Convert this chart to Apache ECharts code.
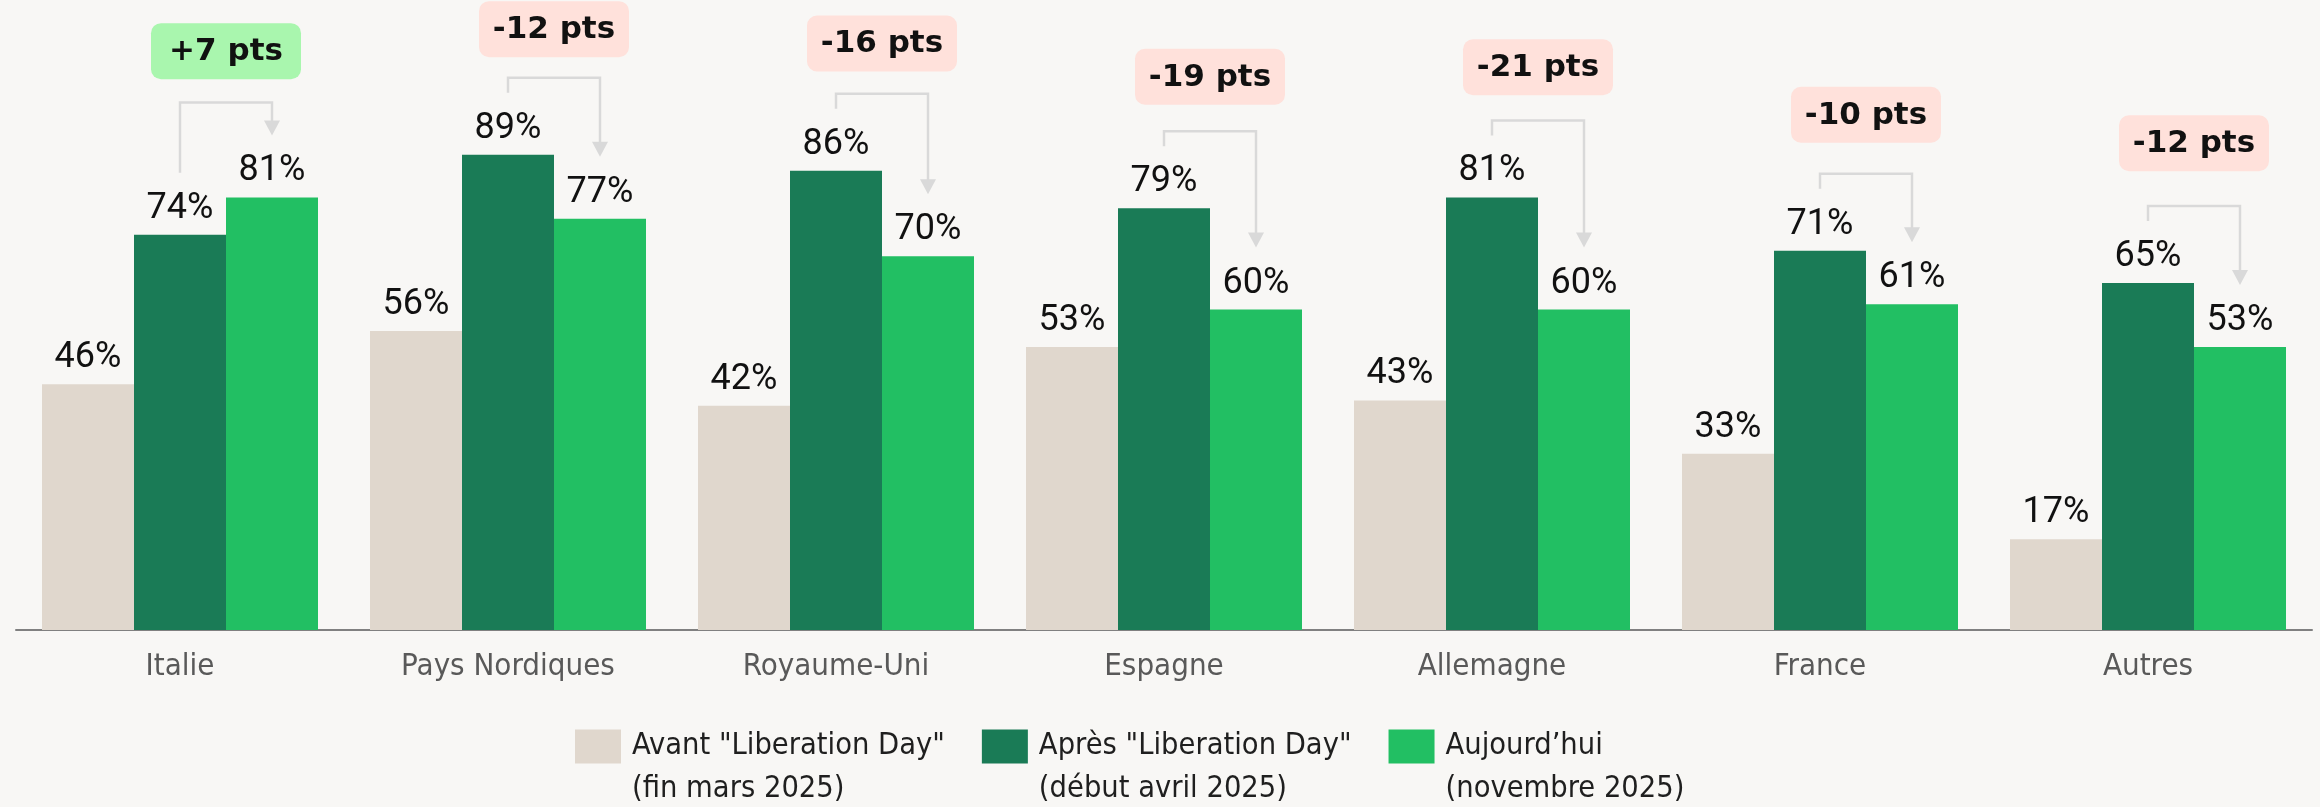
<!DOCTYPE html>
<html>
<head>
<meta charset="utf-8">
<script src="https://cdn.jsdelivr.net/npm/echarts@6/dist/echarts.min.js"></script>
<style>
  html, body { margin: 0; padding: 0; background: #f8f7f5; }
  #chart { width: 2320px; height: 807px; }
</style>
</head>
<body>
<div id="chart"></div>
<script>
  const categories = ['Italie', 'Pays Nordiques', 'Royaume-Uni', 'Espagne', 'Allemagne', 'France', 'Autres']
  const avant = [46, 56, 42, 53, 43, 33, 17]
  const apres = [74, 89, 86, 79, 81, 71, 65]
  const aujourdhui = [81, 77, 70, 60, 60, 61, 53]
  const seriesNames = [
    'Avant "Liberation Day"\n(fin mars 2025)',
    'Après "Liberation Day"\n(début avril 2025)',
    'Aujourd\u2019hui\n(novembre 2025)'
  ]

  const BAR_W = 92
  const labelFont = '"Liberation Sans Narrow", Roboto, sans-serif'
  const textFont = '"DejaVu Sans Condensed", "DejaVu Sans", sans-serif'

  const chart = echarts.init(document.getElementById('chart'))

  // label commun pour les barres
  const barLabel = {
    show: true,
    position: 'top',
    distance: 8,
    formatter: '{c}%',
    color: '#111',
    fontFamily: labelFont,
    fontSize: 36
  }

  // fleche + pastille "pts" au-dessus de chaque groupe
  const renderDelta = (params, api) => {
    const idx = api.value(0)
    const d = api.value(1)
    const l = api.value(2)
    const xd = api.coord([idx, d])[0]
    const xl = xd + BAR_W
    const darkTop = api.coord([idx, d])[1]
    const lightTop = api.coord([idx, l])[1]
    const leftEnd = darkTop - 62
    const tip = lightTop - 62
    const by = Math.min(leftEnd - 15, tip - 33)
    const bc = 0.89 * by - 40
    const xc = (xd + xl) / 2
    const delta = l - d
    const txt = (delta > 0 ? '+' : '') + delta + ' pts'
    const lineColor = '#d9d9d9'
    return {
      type: 'group',
      children: [{
        type: 'polyline',
        shape: { points: [[xd, leftEnd], [xd, by], [xl, by], [xl, tip - 14]] },
        style: { stroke: lineColor, lineWidth: 2.5, fill: null }
      }, {
        type: 'polygon',
        shape: { points: [[xl - 8, tip - 15], [xl + 8, tip - 15], [xl, tip]] },
        style: { fill: lineColor }
      }, {
        type: 'rect',
        shape: { x: xc - 75, y: bc - 28, width: 150, height: 56, r: 10 },
        style: { fill: delta > 0 ? '#a9f6ae' : '#ffe1db' }
      }, {
        type: 'text',
        style: {
          text: txt,
          x: xc,
          y: bc + 1,
          align: 'center',
          verticalAlign: 'middle',
          fill: '#111',
          fontFamily: '"DejaVu Sans", sans-serif',
          fontWeight: 'bold',
          fontSize: 31
        }
      }]
    }
  }

  const option = {
    backgroundColor: '#f8f7f5',
    animation: false,
    grid: {
      left: 16,
      right: 8,
      top: 96,
      bottom: 177
    },
    legend: {
      left: 575,
      top: 682,
      padding: 0,
      itemWidth: 46,
      itemHeight: 34,
      itemGap: 37,
      icon: 'rect',
      data: seriesNames,
      // ligne vide en tete pour aligner la 1re ligne sur le carre
      formatter: name => ' \n' + name,
      textStyle: {
        fontFamily: textFont,
        fontSize: 30.5,
        color: '#1f1f1f',
        lineHeight: 43,
        padding: [0, 0, 0, 6]
      }
    },
    xAxis: {
      type: 'category',
      data: categories,
      axisLine: {
        show: true,
        lineStyle: { color: '#808080', width: 2 }
      },
      axisTick: { show: false },
      axisLabel: {
        color: '#595959',
        fontFamily: textFont,
        fontSize: 31,
        margin: 21
      }
    },
    yAxis: {
      type: 'value',
      min: 0,
      max: 100,
      show: false,
      splitLine: { show: false }
    },
    series: [{
      name: seriesNames[0],
      type: 'bar',
      barWidth: BAR_W,
      barGap: '0%',
      itemStyle: { color: '#e0d7cd' },
      label: barLabel,
      data: avant
    }, {
      name: seriesNames[1],
      type: 'bar',
      barWidth: BAR_W,
      barGap: '0%',
      itemStyle: { color: '#1a7b56' },
      label: barLabel,
      data: apres
    }, {
      name: seriesNames[2],
      type: 'bar',
      barWidth: BAR_W,
      barGap: '0%',
      itemStyle: { color: '#22bf63' },
      label: barLabel,
      data: aujourdhui
    }, {
      type: 'custom',
      clip: false,
      z: 10,
      silent: true,
      renderItem: renderDelta,
      data: categories.map((c, i) => [i, apres[i], aujourdhui[i]])
    }]
  }
  chart.setOption(option)
</script>
</body>
</html>
